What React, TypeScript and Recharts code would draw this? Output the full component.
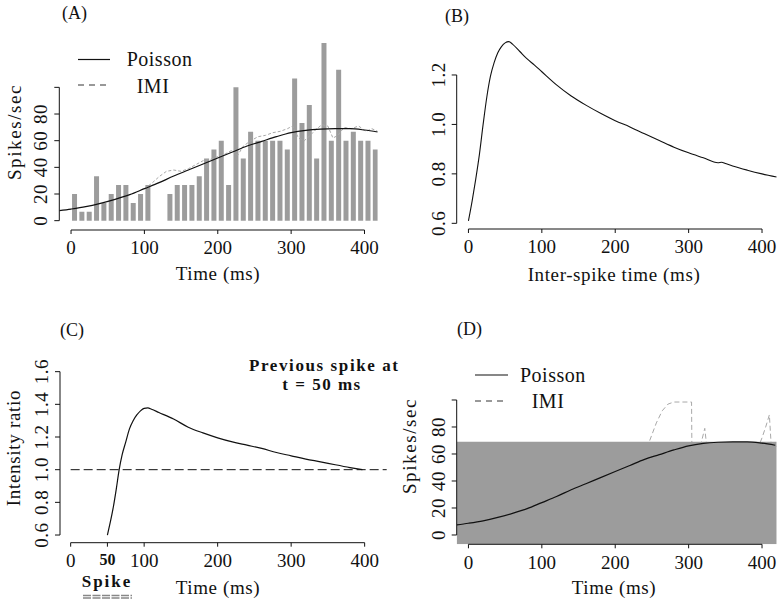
import React from 'react';
import { ComposedChart, Bar, Line, Area, XAxis, YAxis, ReferenceLine } from 'recharts';

const FONT = '"Liberation Serif", "DejaVu Serif", serif';
const INK = '#111';
const GREY = '#9c9c9c';

// (A) histogram, 10 ms bins (spikes/sec)
const binCenters = [
  5, 15, 25, 35, 45, 55, 65, 75, 85, 95, 105, 115, 125, 135, 145, 155, 165, 175, 185, 195, 205,
  215, 225, 235, 245, 255, 265, 275, 285, 295, 305, 315, 325, 335, 345, 355, 365, 375, 385, 395, 405, 415,
];
const binRates = [
  20, 6.7, 6.7, 33.3, 13.3, 20, 26.7, 26.7, 13.3, 20, 26.7, 0, 0, 20, 26.7, 26.7, 26.7, 33.3, 46.7, 53.3, 60,
  26.7, 100, 46.7, 66.7, 60, 60, 60, 60, 53.3, 106.7, 73.3, 86.7, 46.7, 133.3, 60, 113.3, 60, 66.7, 60, 60, 53.3,
];

// Poisson rate estimate (A and D)
const poissonTimes = [-16, 0, 20, 40, 60, 80, 100, 120, 140, 160, 180, 200, 220, 240, 260, 280, 300, 320, 340, 360, 380, 400, 418];
const poissonRates = [7.5, 8.7, 10.5, 13, 16, 19.5, 24, 28.5, 33.5, 38, 42.5, 47, 51.5, 56, 59.5, 63, 66, 67.8, 68.7, 69, 69, 68, 66.5];

// IMI rate estimate in (A)
const imiTimesA = [
  100, 110, 120, 130, 140, 150, 160, 170, 180, 190, 200, 210, 220, 227, 235, 245, 255, 265, 275, 285, 295,
  302, 310, 318, 326, 333, 342, 350, 357, 364, 372, 382, 392, 402, 410, 418,
];
const imiRatesA = [
  24, 28, 33, 37, 38, 37, 39, 42, 45, 46, 48, 50, 53, 49, 56, 60, 63, 64, 66, 67, 69,
  71, 62, 60, 64, 68, 72, 71, 62, 64, 70, 69, 71, 67, 69, 67,
];

// (B) intensity ratio vs inter-spike time
const isiTimes = [0, 5, 10, 15, 20, 25, 30, 35, 40, 45, 50, 55, 60, 70, 80, 90, 100, 120, 140, 160, 180, 200, 220, 240, 260, 280, 300, 320, 340, 345, 350, 360, 380, 400, 420];
const isiRatio = [0.61, 0.69, 0.78, 0.88, 1.0, 1.11, 1.195, 1.25, 1.29, 1.315, 1.33, 1.335, 1.325, 1.295, 1.265, 1.24, 1.213, 1.16, 1.115, 1.078, 1.045, 1.015, 0.99, 0.962, 0.935, 0.908, 0.885, 0.865, 0.845, 0.847, 0.842, 0.832, 0.815, 0.8, 0.787];

// (C) intensity ratio after a spike at t = 50 ms
const afterTimes = [50, 54, 58, 62, 66, 70, 75, 80, 85, 90, 95, 100, 105, 110, 120, 140, 160, 180, 200, 220, 240, 260, 280, 300, 320, 340, 360, 380, 397];
const afterRatio = [0.6, 0.68, 0.77, 0.88, 1.0, 1.09, 1.17, 1.25, 1.3, 1.335, 1.36, 1.375, 1.378, 1.37, 1.35, 1.31, 1.26, 1.225, 1.195, 1.17, 1.15, 1.13, 1.105, 1.085, 1.065, 1.048, 1.03, 1.013, 1.0];

// (D) IMI rate (mostly hidden under the grey fill) and the fill level
const imiTimesD = [-16, 50, 100, 150, 200, 240, 247, 256, 264, 272, 280, 290, 304, 304.5, 312, 317, 322, 325, 340, 370, 395, 400, 405, 410, 413, 420];
const imiRatesD = [8, 15, 25, 37, 48, 60, 70, 83, 92, 97, 98.5, 98.5, 98.5, 60, 65, 68, 79, 64, 66, 67, 65, 72, 80, 89, 62, 66];
const fillTimes = [-16, 420];
const fillRates = [69, 69];

const timeTicks = [0, 100, 200, 300, 400];
const timeTicksC = [0, 50, 100, 200, 300, 400];
const rateTicks = [0, 20, 40, 60, 80, 100];
const ratioTicksB = [0.6, 0.8, 1.0, 1.2];
const ratioTicksC = [0.6, 0.8, 1.0, 1.2, 1.4, 1.6];

const zip = (ts: number[], vs: number[]) => ts.map((t, i) => ({ t, v: vs[i] }));

const xTick = (props: any) => {
  const { x, y, payload } = props;
  const bold = payload.value === 50;
  return (
    <text x={x} y={y} dy="0.7em" textAnchor="middle" fontFamily={FONT} fontSize={bold ? 16 : 19}
      fontWeight={bold ? 700 : 400} fill={INK}>
      {payload.value}
    </text>
  );
};

const yTick = (fmt: (v: number) => string) => (props: any) => {
  const { x, y, payload } = props;
  return (
    <text x={x} y={y} transform={`rotate(-90 ${x} ${y})`} textAnchor="middle" fontFamily={FONT}
      fontSize={19} letterSpacing={0.5} fill={INK}>
      {fmt(payload.value)}
    </text>
  );
};
const rateFmt = (v: number) => (v === 100 ? '' : String(v));
const ratioFmt = (v: number) => v.toFixed(1);

const title = (text: string, x: number, y: number) => () => (
  <text x={x} y={y} textAnchor="middle" fontFamily={FONT} fontSize={19} letterSpacing={0.6} fill={INK}>
    {text}
  </text>
);
const vTitle = (text: string, x: number, y: number, spacing = 0.8) => () => (
  <text x={x} y={y} transform={`rotate(-90 ${x} ${y})`} textAnchor="middle" fontFamily={FONT}
    fontSize={19} letterSpacing={spacing} fill={INK}>
    {text}
  </text>
);

const axisProps = {
  type: 'number' as const,
  interval: 0 as const,
  allowDataOverflow: true,
  axisLine: false,
  tickLine: { stroke: INK },
};

export default function App() {
  return (
    <div style={{ position: 'absolute', left: 0, top: 0, width: 780, height: 599, background: '#fff' }}>
      {/* (A) */}
      <div style={{ position: 'absolute', left: 0, top: 0 }}>
        <ComposedChart width={390} height={300} data={zip(binCenters, binRates)}
          margin={{ top: 40.7, right: 12.3, bottom: 15, left: 9.3 }}>
          <XAxis {...axisProps} dataKey="t" domain={[-16, 418]} ticks={timeTicks} tickSize={4} tickMargin={7}
            tick={xTick} height={55} label={title('Time (ms)', 218, 280)} />
          <XAxis xAxisId="bins" type="number" dataKey="t" domain={[-16, 418]} allowDataOverflow hide />
          <YAxis {...axisProps} domain={[-7, 135]} ticks={rateTicks} tickSize={5} tickMargin={7}
            tick={yTick(rateFmt)} width={50} label={vTitle('Spikes/sec', 21, 132, 1.6)} />
          <ReferenceLine ifOverflow="visible" segment={[{ x: 0, y: -7 }, { x: 400, y: -7 }]} stroke={INK} />
          <ReferenceLine ifOverflow="visible" segment={[{ x: -16, y: 0 }, { x: -16, y: 100 }]} stroke={INK} />
          <Bar xAxisId="bins" dataKey="v" fill={GREY} barSize={5} isAnimationActive={false} />
          <Line data={zip(imiTimesA, imiRatesA)} dataKey="v" type="linear" stroke="#a8a8a8"
            strokeDasharray="3 2" dot={false} isAnimationActive={false} />
          <Line data={zip(poissonTimes, poissonRates)} dataKey="v" type="monotone" stroke={INK}
            strokeWidth={1.2} dot={false} isAnimationActive={false} />
        </ComposedChart>
      </div>

      {/* (B) */}
      <div style={{ position: 'absolute', left: 390, top: 0 }}>
        <ComposedChart width={390} height={300} margin={{ top: 37.9, right: 3.3, bottom: 16, left: 16.7 }}>
          <XAxis {...axisProps} dataKey="t" domain={[-16, 420]} ticks={timeTicks} tickSize={4} tickMargin={7}
            tick={xTick} height={55} label={title('Inter-spike time (ms)', 224, 281)} />
          <YAxis {...axisProps} domain={[0.577, 1.35]} ticks={ratioTicksB} tickSize={5} tickMargin={7}
            tick={yTick(ratioFmt)} width={50} />
          <ReferenceLine ifOverflow="visible" segment={[{ x: 0, y: 0.577 }, { x: 400, y: 0.577 }]} stroke={INK} />
          <ReferenceLine ifOverflow="visible" segment={[{ x: -16, y: 0.6 }, { x: -16, y: 1.2 }]} stroke={INK} />
          <Line data={zip(isiTimes, isiRatio)} dataKey="v" type="monotone" stroke={INK} strokeWidth={1.1}
            dot={false} isAnimationActive={false} />
        </ComposedChart>
      </div>

      {/* (C) */}
      <div style={{ position: 'absolute', left: 0, top: 300 }}>
        <ComposedChart width={390} height={300} margin={{ top: 68.4, right: 3.3, bottom: 2.3, left: 10 }}>
          <XAxis {...axisProps} dataKey="t" domain={[-14.5, 430]} ticks={timeTicksC} tickSize={4} tickMargin={7}
            tick={xTick} height={55} label={title('Time (ms)', 218, 294)} />
          <YAxis {...axisProps} domain={[0.553, 1.62]} ticks={ratioTicksC} tickSize={5} tickMargin={7}
            tick={yTick(ratioFmt)} width={50} label={vTitle('Intensity ratio', 20, 148, 0.7)} />
          <ReferenceLine ifOverflow="visible" segment={[{ x: 0, y: 0.553 }, { x: 400, y: 0.553 }]} stroke={INK} />
          <ReferenceLine ifOverflow="visible" segment={[{ x: -14.5, y: 0.6 }, { x: -14.5, y: 1.6 }]} stroke={INK} />
          <ReferenceLine ifOverflow="visible" segment={[{ x: 0, y: 1 }, { x: 430, y: 1 }]} stroke={INK}
            strokeDasharray="9 4" />
          <Line data={zip(afterTimes, afterRatio)} dataKey="v" type="monotone" stroke={INK} strokeWidth={1.2}
            dot={false} isAnimationActive={false} />
        </ComposedChart>
      </div>

      {/* (D) */}
      <div style={{ position: 'absolute', left: 390, top: 300 }}>
        <ComposedChart width={390} height={300} margin={{ top: 97.3, right: 3.3, bottom: 5.7, left: 16.7 }}>
          <XAxis {...axisProps} dataKey="t" domain={[-16, 420]} ticks={timeTicks} tickSize={4} tickMargin={7}
            tick={xTick} height={50} label={title('Time (ms)', 224, 294)} />
          <YAxis {...axisProps} domain={[-6.9, 102]} ticks={rateTicks} tickSize={5} tickMargin={7}
            tick={yTick(rateFmt)} width={50} label={vTitle('Spikes/sec', 26, 146, 1.6)} />
          <Line data={zip(imiTimesD, imiRatesD)} dataKey="v" type="linear" stroke="#a8a8a8"
            strokeDasharray="5 3" dot={false} isAnimationActive={false} />
          <Area data={zip(fillTimes, fillRates)} dataKey="v" type="linear" baseValue="dataMin" fill={GREY}
            fillOpacity={1} stroke="none" zIndex={450} isAnimationActive={false} />
          <Line data={zip(poissonTimes, poissonRates)} dataKey="v" type="monotone" stroke={INK}
            strokeWidth={1.2} dot={false} zIndex={460} isAnimationActive={false} />
          <ReferenceLine ifOverflow="visible" segment={[{ x: 0, y: -6.9 }, { x: 400, y: -6.9 }]} stroke={INK}
            zIndex={470} />
          <ReferenceLine ifOverflow="visible" segment={[{ x: -16, y: 0 }, { x: -16, y: 100 }]} stroke={INK}
            zIndex={470} />
        </ComposedChart>
      </div>

      {/* panel letters, legends and notes */}
      <svg width={780} height={599} style={{ position: 'absolute', left: 0, top: 0, pointerEvents: 'none' }}
        fontFamily={FONT} fill={INK}>
        <text x={62} y={19} fontSize={18}>(A)</text>
        <text x={445} y={22} fontSize={18}>(B)</text>
        <text x={60} y={336} fontSize={18}>(C)</text>
        <text x={457} y={335} fontSize={18}>(D)</text>

        <line x1={78} y1={59.5} x2={110} y2={59.5} stroke={INK} strokeWidth={1.2} />
        <text x={126.7} y={66} fontSize={20} letterSpacing={0.5}>Poisson</text>
        <line x1={78} y1={85} x2={110} y2={85} stroke="#333" strokeDasharray="6 5" />
        <text x={136.7} y={92.5} fontSize={20} letterSpacing={0.5}>IMI</text>

        <line x1={475} y1={375} x2={508} y2={375} stroke={INK} strokeWidth={1.2} />
        <text x={520} y={382} fontSize={20} letterSpacing={0.5}>Poisson</text>
        <line x1={475} y1={401} x2={506} y2={401} stroke="#333" strokeDasharray="6 5" />
        <text x={531.7} y={408} fontSize={20} letterSpacing={0.5}>IMI</text>

        <text x={249} y={371} fontSize={17} fontWeight={700} letterSpacing={1.6}>Previous spike at</text>
        <text x={322} y={390} fontSize={17} fontWeight={700} letterSpacing={1.5} textAnchor="middle">t = 50 ms</text>
        <text x={107} y={587} fontSize={17} fontWeight={700} textAnchor="middle" letterSpacing={2}>Spike</text>
        <line x1={83} y1={595.5} x2={132} y2={595.5} stroke="#888" strokeWidth={1.4} strokeDasharray="8 1.5" />
        <line x1={83} y1={598} x2={132} y2={598} stroke="#888" strokeWidth={1.4} strokeDasharray="8 1.5" />
      </svg>
    </div>
  );
}
